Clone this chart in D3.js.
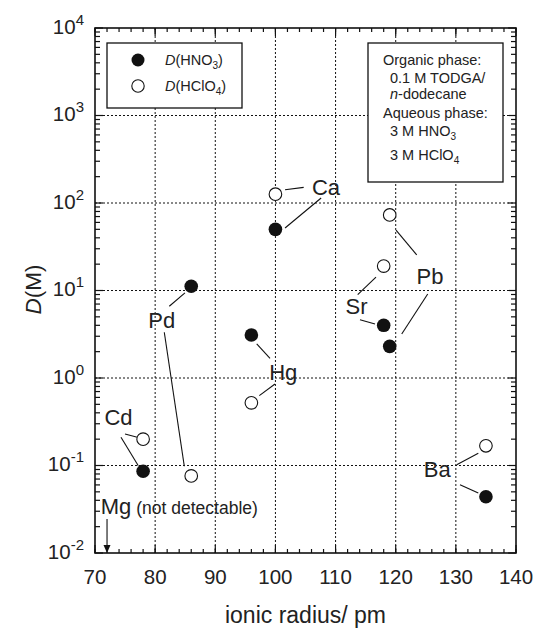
<!DOCTYPE html>
<html>
<head>
<meta charset="utf-8">
<script src="https://cdn.jsdelivr.net/npm/d3@7"></script>
<style>
  body { margin: 0; background: #fff; }
  svg text { font-family: "Liberation Sans", Arial, sans-serif; fill: #222; }
</style>
</head>
<body>
<svg id="chart" width="534" height="631"></svg>
<script>
// data
var elements = ["Ca", "Pd", "Hg", "Sr", "Pb", "Cd", "Ba"]
var ionicRadius = [100, 86, 96, 118, 119, 78, 135]
var dHNO3 = [50, 11.2, 3.1, 4.0, 2.3, 0.086, 0.044]
var dHClO4 = [126, 0.076, 0.52, 19, 73, 0.2, 0.168]

// label anchors (data units) and leader lines [x1,y1,x2,y2]
var labelX = [108.4, 81.1, 101.3, 113.5, 125.7, 73.9, 126.9]
var labelY = [152, 4.6, 1.17, 6.5, 14.6, 0.35, 0.089]
var leaders = [
    [101.6, 142, 104.7, 151], [107.6, 114, 101.6, 51.8],
    [82.35, 6.6, 84.96, 9.4], [81.52, 3.33, 84.85, 0.098],
    [96.89, 2.45, 99.1, 1.68], [97.32, 0.628, 99.93, 0.854],
    [113.68, 8.95, 116.72, 14.2], [114.06, 4.64, 116.56, 4.14],
    [120.05, 49.1, 123.49, 25.5], [125.32, 9.12, 121.0, 3.18],
    [74.99, 0.229, 77.03, 0.21], [74.32, 0.21, 77.2, 0.0995],
    [130.14, 0.102, 133.73, 0.138], [130.69, 0.0604, 133.73, 0.0485]
]

var xTicks = [70, 80, 90, 100, 110, 120, 130, 140]
var yExponents = [-2, -1, 0, 1, 2, 3, 4]

var margin = {left: 95, right: 18, top: 28, bottom: 78}
var width = 534 - margin.left - margin.right
var height = 631 - margin.top - margin.bottom

var svg = d3.select("#chart")
var g = svg.append("g")
    .attr("transform", "translate(" + margin.left + "," + margin.top + ")")

var xScale = d3.scaleLinear().domain([70, 140]).range([0, width])
var yScale = d3.scaleLog().domain([0.01, 10000]).range([height, 0])

// grid
g.selectAll(".gx").data(xTicks.slice(1, -1)).enter().append("line")
    .attr("x1", function (d) { return xScale(d) })
    .attr("x2", function (d) { return xScale(d) })
    .attr("y1", 0).attr("y2", height)
    .attr("stroke", "#111").attr("stroke-width", 1).attr("stroke-dasharray", "2,2")
g.selectAll(".gy").data(yExponents.slice(1, -1)).enter().append("line")
    .attr("y1", function (d) { return yScale(Math.pow(10, d)) })
    .attr("y2", function (d) { return yScale(Math.pow(10, d)) })
    .attr("x1", 0).attr("x2", width)
    .attr("stroke", "#111").attr("stroke-width", 1).attr("stroke-dasharray", "2,2")

// minor / major ticks, inward on all four sides
var xMinor = d3.range(70, 141, 2)
var yMinor = []
yExponents.slice(0, -1).forEach(function (e) {
    for (var k = 2; k <= 9; k++) yMinor.push(k * Math.pow(10, e))
})
function tickLines(cls, data, isX, len) {
    var sel = g.selectAll("." + cls).data(data).enter()
    if (isX) {
        sel.append("line").attr("x1", xScale).attr("x2", xScale)
            .attr("y1", height).attr("y2", height - len)
            .attr("stroke", "#111").attr("stroke-width", 1.2)
        g.selectAll("." + cls + "t").data(data).enter().append("line")
            .attr("x1", xScale).attr("x2", xScale)
            .attr("y1", 0).attr("y2", len)
            .attr("stroke", "#111").attr("stroke-width", 1.2)
    } else {
        sel.append("line").attr("y1", yScale).attr("y2", yScale)
            .attr("x1", 0).attr("x2", len)
            .attr("stroke", "#111").attr("stroke-width", 1.2)
        g.selectAll("." + cls + "r").data(data).enter().append("line")
            .attr("y1", yScale).attr("y2", yScale)
            .attr("x1", width).attr("x2", width - len)
            .attr("stroke", "#111").attr("stroke-width", 1.2)
    }
}
tickLines("xmin", xMinor, true, 4)
tickLines("xmaj", xTicks, true, 8)
tickLines("ymin", yMinor, false, 5)
tickLines("ymaj", yExponents.map(function (e) { return Math.pow(10, e) }), false, 8)

// frame
g.append("rect").attr("width", width).attr("height", height)
    .attr("fill", "none").attr("stroke", "#111").attr("stroke-width", 1.6)

// tick labels
g.selectAll(".xl").data(xTicks).enter().append("text")
    .attr("x", xScale).attr("y", height + 31)
    .attr("text-anchor", "middle").style("font-size", "20.5px")
    .text(function (d) { return d })

var yl = g.selectAll(".yl").data(yExponents).enter().append("text")
    .attr("x", -11).attr("y", function (d) { return yScale(Math.pow(10, d)) + 5.5 })
    .attr("text-anchor", "end").style("font-size", "20.5px")
yl.append("tspan").text("10")
yl.append("tspan").attr("dy", -9).style("font-size", "15px")
    .text(function (d) { return d })

// axis titles
g.append("text")
    .attr("x", xScale(105)).attr("y", height + 70)
    .attr("text-anchor", "middle").style("font-size", "23px")
    .text("ionic radius/ pm")
var yt = g.append("text")
    .attr("transform", "translate(" + (-54) + "," + (yScale(Math.pow(10, 1.01))) + ") rotate(-90)")
    .attr("text-anchor", "middle").style("font-size", "22.5px")
yt.append("tspan").style("font-style", "italic").text("D")
yt.append("tspan").text("(M)")

// leader lines
g.selectAll(".leader").data(leaders).enter().append("line")
    .attr("x1", function (d) { return xScale(d[0]) })
    .attr("y1", function (d) { return yScale(d[1]) })
    .attr("x2", function (d) { return xScale(d[2]) })
    .attr("y2", function (d) { return yScale(d[3]) })
    .attr("stroke", "#111").attr("stroke-width", 1.1)

// element labels
g.selectAll(".elabel").data(elements).enter().append("text")
    .attr("x", function (d, i) { return xScale(labelX[i]) })
    .attr("y", function (d, i) { return yScale(labelY[i]) + 7.5 })
    .attr("text-anchor", "middle").style("font-size", "22px")
    .text(function (d) { return d })

// points
g.selectAll(".open").data(ionicRadius).enter().append("circle")
    .attr("cx", function (d) { return xScale(d) })
    .attr("cy", function (d, i) { return yScale(dHClO4[i]) })
    .attr("r", 6.3).attr("fill", "#fff").attr("stroke", "#111").attr("stroke-width", 1.1)
g.selectAll(".filled").data(ionicRadius).enter().append("circle")
    .attr("cx", function (d) { return xScale(d) })
    .attr("cy", function (d, i) { return yScale(dHNO3[i]) })
    .attr("r", 6.8).attr("fill", "#111")

// Mg not detectable
var mg = g.append("text")
    .attr("x", xScale(70.95)).attr("y", yScale(0.0279))
    .style("font-size", "22px")
mg.append("tspan").text("Mg")
mg.append("tspan").attr("dx", 5).style("font-size", "17.5px").text("(not detectable)")
g.append("line")
    .attr("x1", xScale(72)).attr("x2", xScale(72))
    .attr("y1", yScale(0.0245)).attr("y2", height - 6)
    .attr("stroke", "#111").attr("stroke-width", 1.1)
g.append("path")
    .attr("d", "M" + (xScale(72) - 3.5) + "," + (height - 8) + "L" + (xScale(72) + 3.5) + "," + (height - 8) + "L" + xScale(72) + "," + height + "Z")
    .attr("fill", "#111")

// legend box
var lg = svg.append("g").attr("transform", "translate(107,43)")
lg.append("rect").attr("width", 135).attr("height", 65)
    .attr("fill", "#fff").attr("stroke", "#111").attr("stroke-width", 1.3)
lg.append("circle").attr("cx", 31).attr("cy", 17).attr("r", 6.5).attr("fill", "#111")
lg.append("circle").attr("cx", 31).attr("cy", 43).attr("r", 6.2)
    .attr("fill", "#fff").attr("stroke", "#111").attr("stroke-width", 1.1)
var legendItems = [["HNO", "3"], ["HClO", "4"]]
legendItems.forEach(function (it, i) {
    var t = lg.append("text").attr("x", 58).attr("y", 22 + i * 26).style("font-size", "14.5px")
    t.append("tspan").style("font-style", "italic").text("D")
    t.append("tspan").text("(" + it[0])
    t.append("tspan").attr("dy", 4).style("font-size", "10px").text(it[1])
    t.append("tspan").attr("dy", -4).text(")")
})

// conditions box
var cb = svg.append("g").attr("transform", "translate(368,43)")
cb.append("rect").attr("width", 135).attr("height", 139)
    .attr("fill", "#fff").attr("stroke", "#111").attr("stroke-width", 1.3)
var condLines = [
    [15, 22, "Organic phase:", null],
    [22, 40, "0.1 M TODGA/", null],
    [22, 56, "-dodecane", "n"],
    [15, 74.5, "Aqueous phase:", null],
    [22, 93, "3 M HNO", "3"],
    [22, 117, "3 M HClO", "4"]
]
condLines.forEach(function (c) {
    var t = cb.append("text").attr("x", c[0]).attr("y", c[1]).style("font-size", "14.5px")
    if (c[3] == "n") {
        t.append("tspan").style("font-style", "italic").text("n")
        t.append("tspan").text(c[2])
    } else {
        t.append("tspan").text(c[2])
        if (c[3]) t.append("tspan").attr("dy", 4).style("font-size", "10px").text(c[3])
    }
})
</script>
</body>
</html>
